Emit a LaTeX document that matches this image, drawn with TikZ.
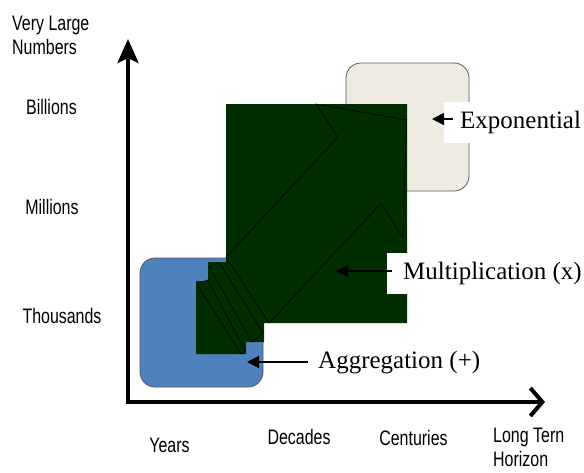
\documentclass[tikz,border=0pt]{standalone}
\usepackage{fontspec}
\setmainfont{Liberation Serif}
\newfontfamily\axisfont[FakeStretch=0.76]{Liberation Sans}
\usetikzlibrary{arrows.meta}
\definecolor{aggblue}{RGB}{79,129,189}
\definecolor{expobeige}{RGB}{238,236,225}
\definecolor{multgreen}{RGB}{0,46,0}

\begin{document}
\begin{tikzpicture}[x=1pt, y=-1pt,
    axis/.style={line width=4pt,
                 {Stealth[length=24pt, width=21pt, inset=5pt]}-{Straight Barb[length=12pt, width=28pt]}},
    scalelabel/.style={font=\axisfont\fontsize{21}{24}\selectfont, inner sep=0pt, align=left},
    region/.style={rectangle, rounded corners=15pt, draw=gray!70!black, line width=0.8pt},
    outline/.style={draw=black, line width=0.6pt},
    lbl/.style={font=\fontsize{25}{30}\selectfont, fill=white, anchor=west,
                inner xsep=16pt, minimum height=41pt},
    pointer/.style={-{Triangle[length=12pt, width=12pt]}, line width=1.6pt},
]
    \useasboundingbox (0,0) rectangle (584,472);

    % Regions behind the arrow
    \node[region, fill=aggblue, minimum width=123pt, minimum height=129pt] (agg) at (201.5,322.5) {};
    \node[region, fill=expobeige, minimum width=123pt, minimum height=128pt] (expbox) at (407.5,127) {};

    % Multiplication block and its arrow
    \fill[multgreen] (226,104) -- (407,104) -- (407,323) -- (264,323) -- (264,342) -- (246,342)
        -- (246,354) -- (196,354) -- (196,281) -- (208,281) -- (208,262) -- (226,262) -- cycle;
    \draw[outline] (226,257) -- (337.7,137.3) -- (316,104) -- (406.7,120) -- (402.7,237.7)
        -- (381,203.3) -- (269,323) -- cycle;
    \draw[outline] (209,266.7) -- (219.3,262.7) -- (263.3,333.3) -- (252,342) -- cycle;
    \draw[outline] (196.7,284) -- (207.5,280) -- (245.5,351) -- (241,354) -- cycle;

    % Labels and pointers
    \node[lbl] (expo) at (444,122.5) {Exponential};
    \node[lbl] (mult) at (387,273) {Multiplication (x)};
    \node[lbl] (aggr) at (302,363) {Aggregation (+)};

    \coordinate (expotip) at (432,119);
    \coordinate (multtip) at (336,271);
    \coordinate (aggtip) at (247,362);
    \draw[pointer] ([xshift=9pt, yshift=3.5pt]expo.west) -- (expotip);
    \draw[pointer] ([xshift=5pt, yshift=2pt]mult.west) -- (multtip);
    \draw[pointer] ([xshift=6pt, yshift=1pt]aggr.west) -- (aggtip);

    % Axes
    \coordinate (origin) at (128,402);
    \coordinate (ytop) at (128,39);
    \coordinate (xend) at (545,402);
    \draw[axis] (ytop) -- (origin) -- (xend);

    % Scale on the vertical axis
    \node[scalelabel, anchor=west] (vlarge) at (12,35.5) {Very Large\\Numbers};
    \node[scalelabel] (bill) at (51.5,107) {Billions};
    \node[scalelabel] (mill) at (52,207) {Millions};
    \node[scalelabel] (thou) at (62,316) {Thousands};

    % Scale on the horizontal axis
    \node[scalelabel] (years) at (169.5,445) {Years};
    \node[scalelabel] (decades) at (299,437) {Decades};
    \node[scalelabel] (cent) at (413.5,438) {Centuries};
    \node[scalelabel, anchor=west] (longterm) at (493,447) {Long Tern\\Horizon};
\end{tikzpicture}
\end{document}
